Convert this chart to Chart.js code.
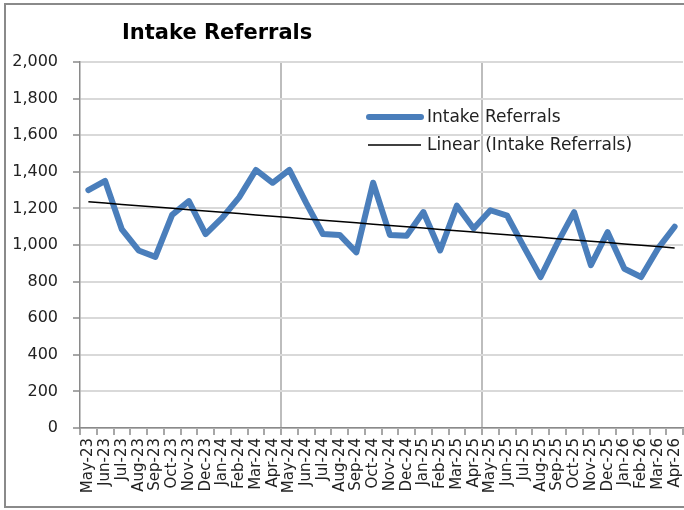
<!DOCTYPE html>
<html>
<head>
<meta charset="utf-8">
<script src="https://cdn.jsdelivr.net/npm/chart.js@4"></script>
<style>
  html, body { margin: 0; padding: 0; background: #fff; }
  #wrap { width: 684px; height: 510px; position: relative; }
</style>
</head>
<body>
<div id="wrap"><canvas id="referralChart" width="684" height="510"></canvas></div>
<script>
'use strict';

// data -------------------
const months = ['May-23','Jun-23','Jul-23','Aug-23','Sep-23','Oct-23','Nov-23','Dec-23',
  'Jan-24','Feb-24','Mar-24','Apr-24','May-24','Jun-24','Jul-24','Aug-24','Sep-24','Oct-24',
  'Nov-24','Dec-24','Jan-25','Feb-25','Mar-25','Apr-25','May-25','Jun-25','Jul-25','Aug-25',
  'Sep-25','Oct-25','Nov-25','Dec-25','Jan-26','Feb-26','Mar-26','Apr-26'];
const referrals = [1300, 1350, 1085, 970, 935, 1165, 1240, 1060, 1150, 1260, 1410, 1340,
  1410, 1230, 1060, 1055, 960, 1340, 1055, 1050, 1180, 970, 1215, 1090,
  1190, 1160, 990, 825, 1010, 1180, 890, 1070, 870, 825, 980, 1100];
const yTicks = [0, 200, 400, 600, 800, 1000, 1200, 1400, 1600, 1800, 2000];
const chartTitle = 'Intake Referrals';
const seriesName = 'Intake Referrals';
const trendName = 'Linear (Intake Referrals)';

// least squares trend line from the series
function linearFit(ys) {
  const n = ys.length;
  const mx = (n - 1) / 2;
  const my = ys.reduce((a, b) => a + b, 0) / n;
  let sxy = 0, sxx = 0;
  ys.forEach((y, i) => { sxy += (i - mx) * (y - my); sxx += (i - mx) * (i - mx); });
  const slope = sxy / sxx;
  return ys.map((_, i) => my + slope * (i - mx));
}
const trend = linearFit(referrals);

const BLUE = '#4a7ebb';
const FONT = 'DejaVu Sans';

// title, legend and outer frame -------------------
const decor = {
  id: 'decor',
  afterDraw(chart) {
    const c = chart.ctx;
    c.save();
    // frame
    c.strokeStyle = '#8a8a8a';
    c.lineWidth = 2;
    c.strokeRect(5, 4, 700, 503);
    // title
    c.fillStyle = '#000';
    c.font = 'bold 21px "' + FONT + '"';
    c.textBaseline = 'middle';
    c.textAlign = 'left';
    c.fillText(chartTitle, 122, 34);
    // legend
    c.font = '17px "' + FONT + '"';
    c.lineCap = 'round';
    c.strokeStyle = BLUE;
    c.lineWidth = 6;
    c.beginPath(); c.moveTo(369, 117); c.lineTo(421, 117); c.stroke();
    c.fillStyle = '#222';
    c.fillText(seriesName, 427, 118);
    c.strokeStyle = '#000';
    c.lineWidth = 1.5;
    c.lineCap = 'butt';
    c.beginPath(); c.moveTo(368, 145); c.lineTo(421, 145); c.stroke();
    c.fillText(trendName, 427, 146);
    c.restore();
  }
};

document.addEventListener('DOMContentLoaded', e => {
  Chart.defaults.font.family = FONT;
  Chart.defaults.color = '#222';

  let ctx = document.getElementById('referralChart');
  let referralChart = new Chart(ctx, {
    type: 'line',
    data: {
      labels: months,
      datasets: [{
        label: seriesName,
        data: referrals,
        borderColor: BLUE,
        borderWidth: 6,
        pointRadius: 0,
        tension: 0,
        borderJoinStyle: 'round',
        borderCapStyle: 'round',
        order: 2
      }, {
        label: trendName,
        data: trend,
        borderColor: '#000',
        borderWidth: 1.5,
        pointRadius: 0,
        tension: 0,
        order: 1
      }]
    },
    options: {
      responsive: false,
      animation: false,
      layout: { padding: { top: 62, right: 1, bottom: 0, left: 0 } },
      plugins: {
        legend: { display: false },
        title: { display: false },
        tooltip: { enabled: false }
      },
      scales: {
        x: {
          type: 'category',
          offset: true,
          grid: {
            offset: true,
            lineWidth: 2,
            color: c => (c.index === 12 || c.index === 24) ? '#bdbdbd' : (c.index === 36 ? '#d9d9d9' : 'rgba(0,0,0,0)'),
            tickColor: '#8a8a8a',
            tickWidth: 1.5,
            tickLength: 7
          },
          border: { color: '#8a8a8a', width: 1.5 },
          ticks: {
            autoSkip: false,
            minRotation: 90,
            maxRotation: 90,
            padding: 3,
            font: { size: 15 },
            color: '#222'
          },
          afterFit: s => { s.height = 82; s.paddingLeft = 0; s.paddingRight = 0; }
        },
        y: {
          min: 0,
          max: 2000,
          afterBuildTicks: s => { s.ticks = yTicks.map(v => ({ value: v })); },
          grid: {
            lineWidth: 2,
            color: '#d9d9d9',
            tickColor: '#8a8a8a',
            tickWidth: 1.5,
            tickLength: 7
          },
          border: { color: '#8a8a8a', width: 1.5 },
          ticks: {
            padding: 15,
            font: { size: 16 },
            color: '#222',
            callback: v => v.toLocaleString('en-US')
          },
          afterFit: s => { s.width = 80; s.paddingTop = 0; s.paddingBottom = 0; }
        }
      }
    },
    plugins: [decor]
  });
});
</script>
</body>
</html>
